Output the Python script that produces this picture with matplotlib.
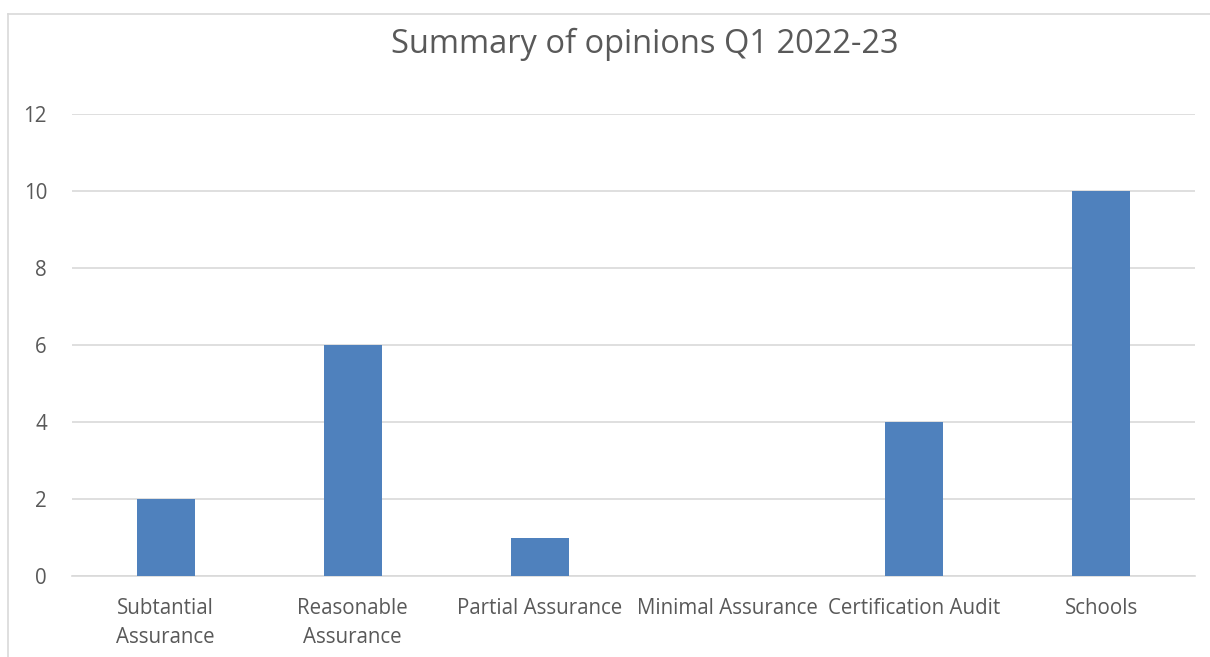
import matplotlib.pyplot as plt
from matplotlib.lines import Line2D

categories = ["Subtantial\nAssurance", "Reasonable\nAssurance", "Partial Assurance",
              "Minimal Assurance", "Certification Audit", "Schools"]
counts = [2, 6, 1, 0, 4, 10]
yticks = [0, 2, 4, 6, 8, 10, 12]

plt.rcParams['font.family'] = ['Open Sans', 'DejaVu Sans']
text_color = '#595959'

fig = plt.figure(figsize=(12.1, 6.57), dpi=100)
ax = fig.add_axes([72 / 1210, 1 - 576 / 657, (1195 - 72) / 1210, (576 - 114) / 657])

x = list(range(len(categories)))
ax.bar(x, counts, width=0.31, color='#4F81BD', zorder=3)

ax.set_xlim(-0.5, len(categories) - 0.5)
ax.set_ylim(0, 12)
ax.set_yticks(yticks)
ax.set_xticks(x)
ax.set_xticklabels(categories, fontsize=14.8, color=text_color, linespacing=1.5)
ax.tick_params(axis='y', labelsize=14.8, labelcolor=text_color, length=0, pad=18)
ax.tick_params(axis='x', length=0, pad=16)
ax.grid(axis='y', color='#D9D9D9', linewidth=1.2, zorder=0)
for s in ['top', 'right', 'left']:
    ax.spines[s].set_visible(False)
ax.spines['bottom'].set_color('#D9D9D9')
ax.spines['bottom'].set_linewidth(1.2)

fig.text(645 / 1210, 1 - 44 / 657, "Summary of opinions Q1 2022-23", ha='center', va='center',
         fontsize=23.5, color=text_color)

# outer chart border (left and top visible)
fig.add_artist(Line2D([8 / 1210, 8 / 1210], [0, 1 - 14 / 657], transform=fig.transFigure,
                      color='#D9D9D9', linewidth=1.2))
fig.add_artist(Line2D([8 / 1210, 1], [1 - 14 / 657, 1 - 14 / 657], transform=fig.transFigure,
                      color='#D9D9D9', linewidth=1.2))

fig.savefig('out.png', dpi=100)
